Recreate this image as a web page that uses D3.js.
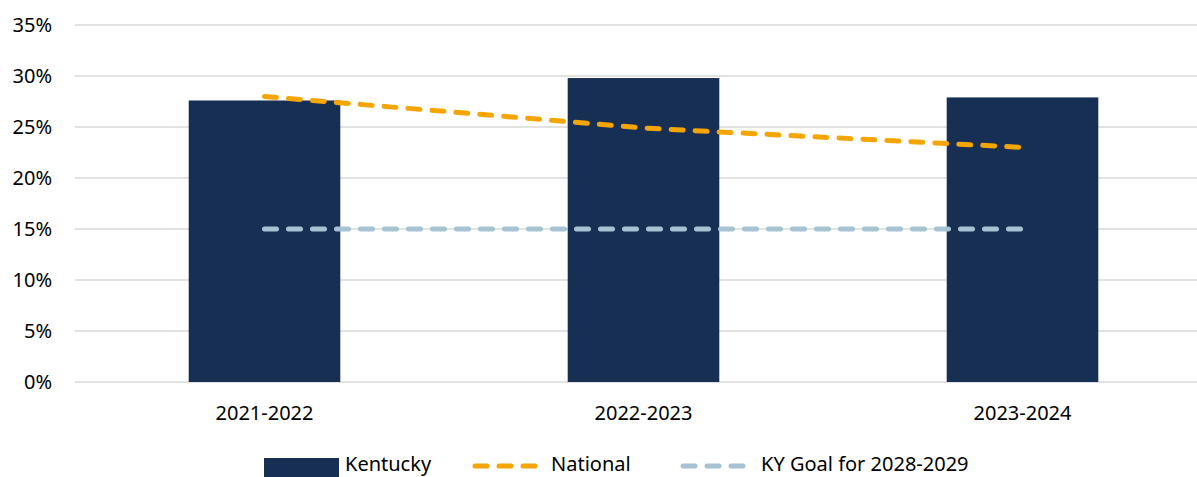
<!DOCTYPE html>
<html>
<head>
    <meta charset="utf-8" />
    <style>
        body { margin: 0; background: #fff; }
        svg { display: block; font-family: "Noto Sans", "Open Sans", sans-serif; }
    </style>
    <script src="https://d3js.org/d3.v7.min.js"></script>
</head>
<body>
<svg id="chart"></svg>
<script>

// data
let years = ["2021-2022", "2022-2023", "2023-2024"];
let kentucky = [27.6, 29.8, 27.9];
let national = [28.0, 24.9, 23.0];
let kyGoal = [15, 15, 15];
let yTicks = [0, 5, 10, 15, 20, 25, 30, 35];

let W = 1197, H = 477;
let plotL = 75, plotR = 1212, plotT = 25, plotB = 382;
let font = "'Noto Sans', 'Open Sans', sans-serif";

let svg = d3.select("#chart").attr("width", W).attr("height", H);

let x = d3.scaleBand().domain(years).range([plotL, plotR]).padding(0);
let y = d3.scaleLinear().domain([0, 35]).range([plotB, plotT]);
let barW = x.bandwidth() * 0.4;
let cx = d => x(d) + x.bandwidth() / 2;

// gridlines
svg.append("g")
    .selectAll("line")
    .data(yTicks)
    .enter()
    .append("line")
    .attr("x1", plotL).attr("x2", W)
    .attr("y1", d => y(d)).attr("y2", d => y(d))
    .style("stroke", "#d9d9d9")
    .style("stroke-width", 1.5);

// y axis labels
let yAxis = svg.append("g")
    .attr("transform", "translate(" + 52 + ",0)")
    .call(d3.axisLeft(y).tickValues(yTicks).tickSize(0).tickPadding(0).tickFormat(d => d + "%"));
yAxis.select(".domain").remove();
yAxis.selectAll("text")
    .style("font-size", "20px")
    .style("font-family", font)
    .attr("fill", "#000");

// bars
svg.append("g")
    .selectAll("rect")
    .data(years)
    .enter()
    .append("rect")
    .attr("x", d => cx(d) - barW / 2)
    .attr("width", barW)
    .attr("y", (d, i) => y(kentucky[i]))
    .attr("height", (d, i) => y(0) - y(kentucky[i]))
    .style("fill", "#182f54");

// x axis labels
let xAxis = svg.append("g")
    .attr("transform", "translate(0," + 420 + ")")
    .call(d3.axisBottom(x).tickSize(0).tickPadding(0));
xAxis.select(".domain").remove();
xAxis.selectAll("text")
    .attr("dy", 0)
    .style("font-size", "20px")
    .style("font-family", font)
    .attr("fill", "#000");

// lines
let line = d3.line().x(d => cx(d[0])).y(d => y(d[1]));

svg.append("path")
    .datum(years.map((d, i) => [d, kyGoal[i]]))
    .attr("d", line)
    .style("fill", "none")
    .style("stroke", "#a7c2d2")
    .style("stroke-width", 5)
    .style("stroke-linecap", "round")
    .style("stroke-dasharray", "12,12");

svg.append("path")
    .datum(years.map((d, i) => [d, national[i]]))
    .attr("d", line)
    .style("fill", "none")
    .style("stroke", "#f5a500")
    .style("stroke-width", 5)
    .style("stroke-linecap", "round")
    .style("stroke-dasharray", "12,12");

// legend
let lg = svg.append("g").attr("transform", "translate(0,465)");
lg.append("rect")
    .attr("x", 264).attr("y", -7).attr("width", 75).attr("height", 19)
    .style("fill", "#182f54");
lg.append("text").attr("x", 345).attr("y", 6).text("Kentucky");

lg.append("line")
    .attr("x1", 475).attr("x2", 540).attr("y1", 1).attr("y2", 1)
    .style("stroke", "#f5a500").style("stroke-width", 5)
    .style("stroke-linecap", "round").style("stroke-dasharray", "12,12");
lg.append("text").attr("x", 551).attr("y", 6).text("National");

lg.append("line")
    .attr("x1", 683).attr("x2", 748).attr("y1", 1).attr("y2", 1)
    .style("stroke", "#a7c2d2").style("stroke-width", 5)
    .style("stroke-linecap", "round").style("stroke-dasharray", "12,12");
lg.append("text").attr("x", 761).attr("y", 6).text("KY Goal for 2028-2029");

lg.selectAll("text").style("font-size", "20px").attr("fill", "#000");

</script>
</body>
</html>
